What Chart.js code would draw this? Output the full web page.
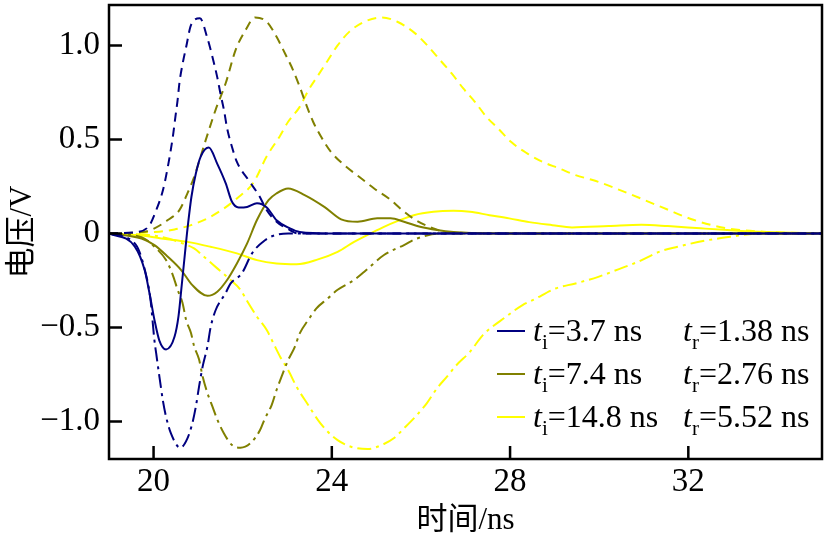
<!DOCTYPE html>
<html>
<head>
<meta charset="utf-8">
<script src="https://cdn.jsdelivr.net/npm/chart.js@4.4.1/dist/chart.umd.min.js"></script>
<style>
  html, body { margin: 0; padding: 0; background: #fff; }
  #wrap { width: 825px; height: 536px; }
</style>
</head>
<body>
<div id="wrap"><canvas id="chart"></canvas></div>
<script>
// axis ticks
const xTicks = [20, 24, 28, 32];
const yTicks = [-1, -0.5, 0, 0.5, 1];
const yTickLabels = ['\u22121.0', '\u22120.5', '0', '0.5', '1.0'];

// legend text
const legendTi = ['3.7', '7.4', '14.8'];
const legendTr = ['1.38', '2.76', '5.52'];

// t_i = 3.7 ns (navy)
const blueSolidX = [19, 19.58, 19.8, 19.91, 20.02, 20.13, 20.28, 20.47, 20.56, 20.63, 20.69, 20.75, 20.85, 20.95, 21.06, 21.24, 21.43, 21.62, 21.76, 21.91, 22.1, 22.32, 22.54, 22.76, 23.06, 23.28, 24, 35];
const blueSolidY = [0, -0.07, -0.195, -0.32, -0.46, -0.57, -0.617, -0.55, -0.44, -0.28, -0.14, 0, 0.195, 0.32, 0.41, 0.457, 0.37, 0.266, 0.168, 0.138, 0.141, 0.16, 0.138, 0.07, 0.027, 0.008, 0, 0];
const blueDashX = [19, 19.65, 19.91, 20.06, 20.21, 20.32, 20.43, 20.49, 20.54, 20.58, 20.65, 20.73, 20.84, 21.04, 21.21, 21.32, 21.43, 21.5, 21.58, 21.65, 21.76, 21.87, 22.13, 22.36, 22.54, 22.76, 23.06, 23.24, 35];
const blueDashY = [0, 0.008, 0.044, 0.124, 0.23, 0.354, 0.51, 0.62, 0.71, 0.8, 0.9, 0.99, 1.108, 1.144, 1.037, 0.94, 0.83, 0.745, 0.656, 0.56, 0.46, 0.38, 0.284, 0.204, 0.124, 0.062, 0.018, 0, 0];
const blueDotX = [19, 19.6, 19.8, 19.93, 20.02, 20.06, 20.13, 20.21, 20.28, 20.39, 20.6, 20.76, 20.87, 20.95, 21.02, 21.1, 21.21, 21.28, 21.39, 21.61, 21.73, 21.98, 22.21, 22.5, 22.73, 23.02, 35];
const blueDotY = [0, -0.06, -0.19, -0.35, -0.57, -0.64, -0.76, -0.89, -0.975, -1.064, -1.14, -1.09, -1.01, -0.92, -0.816, -0.71, -0.6, -0.5, -0.41, -0.32, -0.266, -0.213, -0.106, -0.036, -0.009, 0, 0];

// t_i = 7.4 ns (olive)
const oliveSolidX = [19, 19.73, 20.02, 20.32, 20.62, 20.87, 21.21, 21.43, 21.65, 21.87, 22.1, 22.32, 22.58, 22.76, 23.02, 23.39, 23.84, 24.21, 24.58, 25.02, 25.32, 25.62, 25.98, 26.36, 26.73, 28, 35];
const oliveSolidY = [0, -0.027, -0.062, -0.124, -0.195, -0.275, -0.332, -0.31, -0.248, -0.16, -0.053, 0.071, 0.177, 0.213, 0.239, 0.204, 0.14, 0.075, 0.062, 0.08, 0.08, 0.062, 0.035, 0.018, 0.008, 0, 0];
const oliveDashX = [19, 19.8, 20.02, 20.32, 20.58, 20.76, 20.91, 21.17, 21.39, 21.62, 21.84, 22.06, 22.28, 22.54, 22.76, 22.95, 23.13, 23.28, 23.43, 23.58, 23.76, 23.98, 24.28, 24.62, 24.95, 25.28, 25.58, 25.91, 26.28, 26.54, 28, 35];
const oliveDashY = [0, 0.009, 0.027, 0.071, 0.124, 0.213, 0.3, 0.496, 0.656, 0.8, 0.975, 1.08, 1.149, 1.126, 1.046, 0.957, 0.869, 0.78, 0.682, 0.594, 0.514, 0.434, 0.363, 0.3, 0.239, 0.186, 0.124, 0.067, 0.027, 0.008, 0, 0];
const oliveDotX = [19, 19.73, 20.02, 20.28, 20.43, 20.54, 20.65, 20.73, 20.84, 20.91, 21.02, 21.1, 21.21, 21.32, 21.43, 21.58, 21.76, 21.95, 22.17, 22.39, 22.5, 22.65, 22.76, 22.87, 23.02, 23.17, 23.28, 23.47, 23.65, 23.91, 24.13, 24.5, 24.73, 25.17, 25.62, 25.91, 26.5, 35];
const oliveDotY = [0, -0.02, -0.071, -0.142, -0.22, -0.3, -0.37, -0.46, -0.53, -0.6, -0.67, -0.76, -0.85, -0.92, -0.99, -1.064, -1.126, -1.14, -1.117, -1.046, -0.984, -0.913, -0.833, -0.763, -0.674, -0.603, -0.532, -0.461, -0.4, -0.346, -0.3, -0.248, -0.204, -0.115, -0.062, -0.027, 0, 0];

// t_i = 14.8 ns (yellow)
const yellowSolidX = [19, 19.65, 20.17, 20.76, 21.28, 21.87, 22.32, 22.76, 23.21, 23.69, 24.13, 24.5, 24.87, 25.17, 25.47, 25.84, 26.28, 26.73, 27.1, 27.54, 27.98, 28.43, 28.95, 29.39, 30.21, 30.95, 31.54, 32.28, 32.87, 33.76, 35];
const yellowSolidY = [0, -0.009, -0.027, -0.045, -0.071, -0.106, -0.142, -0.16, -0.164, -0.138, -0.098, -0.045, 0, 0.035, 0.065, 0.097, 0.115, 0.12, 0.115, 0.097, 0.08, 0.06, 0.044, 0.032, 0.039, 0.046, 0.039, 0.027, 0.018, 0.007, 0];
const yellowDashX = [19, 20.02, 20.47, 20.84, 21.21, 21.58, 21.87, 22.24, 22.54, 22.84, 23.02, 23.28, 23.47, 23.69, 23.91, 24.13, 24.39, 24.73, 25.13, 25.47, 25.87, 26.17, 26.43, 26.69, 26.95, 27.21, 27.47, 27.73, 28.02, 28.36, 28.73, 29.1, 29.47, 29.91, 30.65, 31.39, 32.13, 32.87, 33.76, 35];
const yellowDashY = [0, 0.008, 0.021, 0.044, 0.08, 0.133, 0.186, 0.27, 0.41, 0.52, 0.594, 0.673, 0.76, 0.84, 0.92, 1.0, 1.072, 1.126, 1.149, 1.126, 1.064, 0.993, 0.922, 0.851, 0.771, 0.7, 0.62, 0.559, 0.487, 0.429, 0.381, 0.346, 0.31, 0.28, 0.213, 0.141, 0.071, 0.027, 0.008, 0];
const yellowDotX = [19, 20.17, 20.65, 20.91, 21.13, 21.43, 21.73, 21.95, 22.13, 22.32, 22.54, 22.69, 22.84, 23.02, 23.21, 23.47, 23.69, 23.91, 24.13, 24.43, 24.8, 25.17, 25.39, 25.62, 25.91, 26.13, 26.36, 26.58, 26.8, 27.1, 27.39, 27.91, 28.28, 28.54, 29.02, 29.47, 29.98, 30.43, 30.87, 31.39, 31.76, 32.36, 32.95, 33.62, 35];
const yellowDotY = [0, -0.018, -0.053, -0.08, -0.124, -0.186, -0.248, -0.3, -0.372, -0.443, -0.514, -0.585, -0.656, -0.727, -0.816, -0.913, -0.993, -1.055, -1.1, -1.135, -1.147, -1.12, -1.09, -1.037, -0.966, -0.904, -0.824, -0.763, -0.7, -0.63, -0.541, -0.443, -0.381, -0.351, -0.293, -0.266, -0.231, -0.191, -0.151, -0.094, -0.071, -0.039, -0.018, 0, 0];

const NAVY = '#000080', OLIVE = '#808000', YELLOW = '#ffff00';
const DASH = [9, 6];
const DASHDOT = [14, 5, 3, 5];
const serif = '"Liberation Serif", "Times New Roman", serif';
const cjk = '"Liberation Serif", "Noto Sans CJK SC", serif';

function pts(xs, ys) {
    return xs.map((x, i) => ({x: x, y: ys[i]}));
}

function line(xs, ys, color, dash) {
    return {
        data: pts(xs, ys),
        borderColor: color,
        borderWidth: 2,
        borderDash: dash,
        pointRadius: 0,
        fill: false,
        cubicInterpolationMode: 'monotone'
    };
}

// frame round the plot and inward ticks on left and bottom
const framePlugin = {
    id: 'frame',
    afterDraw(chart) {
        const {ctx, chartArea: a, scales} = chart;
        ctx.save();
        ctx.strokeStyle = '#000';
        ctx.lineWidth = 2.5;
        ctx.strokeRect(a.left, a.top, a.right - a.left, a.bottom - a.top);
        ctx.beginPath();
        xTicks.forEach(v => {
            const px = scales.x.getPixelForValue(v);
            ctx.moveTo(px, a.bottom);
            ctx.lineTo(px, a.bottom - 13);
        });
        yTicks.forEach(v => {
            const py = scales.y.getPixelForValue(v);
            ctx.moveTo(a.left, py);
            ctx.lineTo(a.left + 13, py);
        });
        ctx.stroke();
        ctx.restore();
    }
};

// legend with italic t and subscripts
const legendPlugin = {
    id: 'subLegend',
    afterDraw(chart) {
        const {ctx, chartArea: a} = chart;
        const colors = [NAVY, OLIVE, YELLOW];
        const x0 = a.right - 325;
        ctx.save();
        ctx.fillStyle = '#000';
        ctx.textBaseline = 'alphabetic';
        for (let i = 0; i < 3; i++) {
            const rowY = 331 + i * 43;
            ctx.strokeStyle = colors[i];
            ctx.lineWidth = 2;
            ctx.beginPath();
            ctx.moveTo(x0, rowY);
            ctx.lineTo(x0 + 28, rowY);
            ctx.stroke();
            drawLabel(ctx, x0 + 36, rowY + 10, 'i', '=' + legendTi[i] + ' ns');
            drawLabel(ctx, x0 + 186, rowY + 10, 'r', '=' + legendTr[i] + ' ns');
        }
        ctx.restore();
    }
};

function drawLabel(ctx, x, y, sub, rest) {
    ctx.font = 'italic 32px ' + serif;
    ctx.fillText('t', x, y);
    x += ctx.measureText('t').width;
    ctx.font = '21px ' + serif;
    ctx.fillText(sub, x, y + 8);
    x += ctx.measureText(sub).width;
    ctx.font = '32px ' + serif;
    ctx.fillText(rest, x, y);
}

const ctx = document.getElementById('chart').getContext('2d');
const chart = new Chart(ctx, {
    type: 'line',
    data: {
        datasets: [
            line(blueSolidX, blueSolidY, NAVY, []),
            line(blueDashX, blueDashY, NAVY, DASH),
            line(blueDotX, blueDotY, NAVY, DASHDOT),
            line(oliveSolidX, oliveSolidY, OLIVE, []),
            line(oliveDashX, oliveDashY, OLIVE, DASH),
            line(oliveDotX, oliveDotY, OLIVE, DASHDOT),
            line(yellowSolidX, yellowSolidY, YELLOW, []),
            line(yellowDashX, yellowDashY, YELLOW, DASH),
            line(yellowDotX, yellowDotY, YELLOW, DASHDOT)
        ]
    },
    options: {
        responsive: true,
        maintainAspectRatio: false,
        animation: false,
        layout: {padding: {top: 5, right: 3, left: 0, bottom: 0}},
        plugins: {legend: {display: false}, tooltip: {enabled: false}},
        scales: {
            x: {
                type: 'linear', min: 19, max: 35,
                afterBuildTicks: s => { s.ticks = xTicks.map(v => ({value: v})); },
                afterFit: s => { s.height = 77; s.paddingLeft = 0; s.paddingRight = 0; },
                grid: {display: false, drawTicks: false},
                border: {display: false},
                ticks: {color: '#000', font: {family: serif, size: 33}, padding: 4, maxRotation: 0},
                title: {display: true, text: '时间/ns', color: '#000', font: {family: cjk, size: 31, lineHeight: 1}, padding: {top: 1, bottom: 0}}
            },
            y: {
                type: 'linear', min: -1.2, max: 1.215,
                afterBuildTicks: s => { s.ticks = yTicks.map(v => ({value: v})); },
                afterFit: s => { s.width = 109; s.paddingTop = 0; s.paddingBottom = 0; },
                grid: {display: false, drawTicks: false},
                border: {display: false},
                ticks: {
                    color: '#000', font: {family: serif, size: 33}, padding: 9,
                    callback: v => yTickLabels[yTicks.indexOf(v)]
                },
                title: {display: true, text: '电压/V', color: '#000', font: {family: cjk, size: 31, lineHeight: 1}, padding: {top: 7, bottom: 0}}
            }
        }
    },
    plugins: [framePlugin, legendPlugin]
});
</script>
</body>
</html>
